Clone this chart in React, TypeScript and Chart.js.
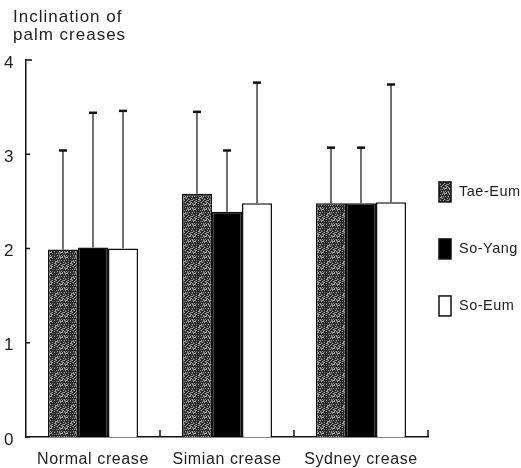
import React, { useEffect, useRef } from "react";
import { Chart, registerables } from "chart.js";

Chart.register(...registerables);

const categories = ["Normal crease", "Simian crease", "Sydney crease"];
const seriesNames = ["Tae-Eum", "So-Yang", "So-Eum"];
const taeEum = [1.99, 2.58, 2.48];
const taeEumSD = [1.05, 0.87, 0.59];
const soYang = [2.01, 2.39, 2.48];
const soYangSD = [1.43, 0.65, 0.59];
const soEum = [2.0, 2.48, 2.49];
const soEumSD = [1.46, 1.28, 1.25];
const titleLines = ["Inclination of", "palm creases"];
const yMin = 0;
const yMax = 4;

const FONT = "'Liberation Sans', Arial, sans-serif";

function makeStipple(): CanvasPattern | string {
  const c = document.createElement("canvas");
  c.width = 16;
  c.height = 16;
  const g = c.getContext("2d");
  if (!g) return "#444";
  g.fillStyle = "#2a2a2a";
  g.fillRect(0, 0, 16, 16);
  for (let y = 0; y < 16; y++) {
    for (let x = 0; x < 16; x++) {
      const v = (x * 37 + y * 91 + x * y * 17) % 11;
      if (v < 3) {
        g.fillStyle = "#9c9c9c";
        g.fillRect(x, y, 1, 1);
      } else if (v < 5) {
        g.fillStyle = "#5e5e5e";
        g.fillRect(x, y, 1, 1);
      }
    }
  }
  const p = g.createPattern(c, "repeat");
  return p || "#444";
}

export default function App() {
  const ref = useRef<HTMLCanvasElement | null>(null);

  useEffect(() => {
    const canvas = ref.current;
    if (!canvas) return;
    const stipple = makeStipple();
    const sds = [taeEumSD, soYangSD, soEumSD];

    const spacingPlugin = {
      id: "spacing",
      beforeDraw(chart: any) {
        (chart.ctx as any).letterSpacing = "0.6px";
      },
    };

    const decorPlugin = {
      id: "decor",
      afterDatasetsDraw(chart: any) {
        const { ctx, chartArea, scales } = chart;
        const xs = scales.x;
        const ys = scales.y;
        ctx.save();
        // error bars
        chart.data.datasets.forEach((ds: any, di: number) => {
          const meta = chart.getDatasetMeta(di);
          meta.data.forEach((bar: any, i: number) => {
            const v = ds.data[i];
            const top = ys.getPixelForValue(v + sds[di][i]);
            ctx.strokeStyle = "#111";
            ctx.lineWidth = 1.2;
            ctx.beginPath();
            ctx.moveTo(bar.x, bar.y);
            ctx.lineTo(bar.x, top);
            ctx.stroke();
            ctx.lineWidth = 2.5;
            ctx.beginPath();
            ctx.moveTo(bar.x - 4, top);
            ctx.lineTo(bar.x + 4, top);
            ctx.stroke();
          });
        });
        // y ticks inside
        ctx.strokeStyle = "#111";
        ctx.lineWidth = 1.5;
        for (let v = yMin; v <= yMax; v++) {
          const y = ys.getPixelForValue(v);
          ctx.beginPath();
          ctx.moveTo(chartArea.left, y);
          ctx.lineTo(chartArea.left + (v === yMax ? 6 : 4), y);
          ctx.stroke();
        }
        // x boundary ticks
        const n = categories.length;
        for (let i = 0; i < n; i++) {
          const x =
            i < n - 1
              ? (xs.getPixelForValue(i) + xs.getPixelForValue(i + 1)) / 2
              : chartArea.right;
          ctx.beginPath();
          ctx.moveTo(x, chartArea.bottom);
          ctx.lineTo(x, chartArea.bottom - 7);
          ctx.stroke();
        }
        // title
        ctx.fillStyle = "#222";
        ctx.font = `17px ${FONT}`;
        (ctx as any).letterSpacing = "1px";
        ctx.textAlign = "left";
        ctx.textBaseline = "middle";
        titleLines.forEach((t, i) => ctx.fillText(t, 13, 17 + i * 18));
        // legend
        const lx = chartArea.right + 11;
        const ly0 = ys.getPixelForValue(2.6);
        const gap = 57;
        (ctx as any).letterSpacing = "0.5px";
        chart.data.datasets.forEach((ds: any, di: number) => {
          const cy = ly0 + di * gap;
          ctx.fillStyle = ds.backgroundColor;
          ctx.fillRect(lx, cy - 10, 12, 20);
          ctx.strokeStyle = "#111";
          ctx.lineWidth = 1.5;
          ctx.strokeRect(lx, cy - 10, 12, 20);
          ctx.fillStyle = "#222";
          ctx.font = `14.5px ${FONT}`;
          ctx.textBaseline = "middle";
          ctx.fillText(ds.label, lx + 20, cy);
        });
        ctx.restore();
      },
    };

    const chart = new Chart(canvas, {
      type: "bar",
      data: {
        labels: categories,
        datasets: [
          { label: seriesNames[0], data: taeEum, backgroundColor: stipple as any },
          { label: seriesNames[1], data: soYang, backgroundColor: "#000" },
          { label: seriesNames[2], data: soEum, backgroundColor: "#fff" },
        ].map((d) => ({
          ...d,
          borderColor: "#111",
          borderWidth: 1.5,
          barPercentage: 1,
          categoryPercentage: 0.672,
        })),
      },
      options: {
        responsive: false,
        animation: false,
        layout: { padding: { top: 60, right: 93, left: 0, bottom: 0 } },
        plugins: {
          legend: { display: false },
          tooltip: { enabled: false },
          title: { display: false },
        },
        scales: {
          x: {
            grid: { display: false, drawTicks: false },
            border: { display: true, color: "#111", width: 1.5 },
            ticks: {
              color: "#222",
              font: { family: FONT, size: 16 },
              padding: 13,
              maxRotation: 0,
            },
            afterFit: (s: any) => {
              s.height = 31;
            },
          },
          y: {
            min: yMin,
            max: yMax,
            grid: { display: false, drawTicks: false },
            border: { display: true, color: "#111", width: 1.5 },
            ticks: {
              stepSize: 1,
              color: "#222",
              font: { family: FONT, size: 17 },
              padding: 12,
              labelOffset: 3,
            },
            afterFit: (s: any) => {
              s.width = 26;
            },
          },
        },
      },
      plugins: [spacingPlugin, decorPlugin],
    });
    return () => chart.destroy();
  }, []);

  return (
    <div style={{ position: "fixed", left: 0, top: 0, width: 521, height: 468, background: "#fff" }}>
      <canvas ref={ref} width={521} height={468} />
    </div>
  );
}
